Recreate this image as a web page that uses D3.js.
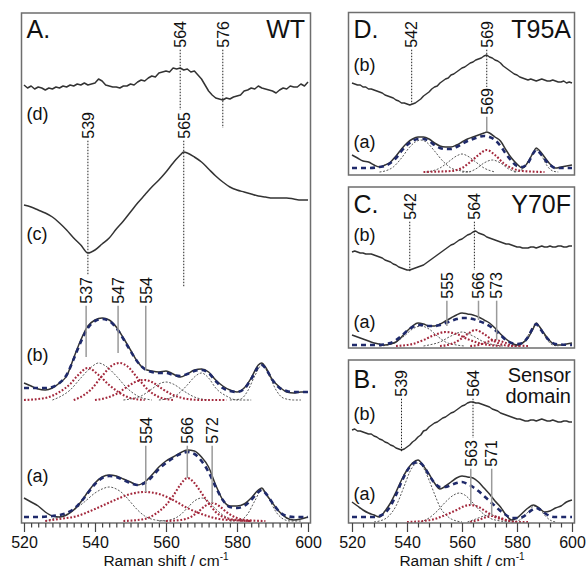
<!DOCTYPE html>
<html>
<head>
<meta charset="utf-8">
<script src="https://cdn.jsdelivr.net/npm/d3@7"></script>
<style>
  body { margin: 0; background: #fff; }
  svg text { font-family: "Liberation Sans", Arial, Helvetica, sans-serif; fill: #111; }
</style>
</head>
<body>
<script>
// ---------- data (Raman shift / cm-1, intensity in arbitrary units) ----------
const X_TICKS = [520, 540, 560, 580, 600];
const SHIFT_1 = d3.range(520, 601);   // 1 cm-1 grid used by the noisy difference traces

// Panel A, WT
const A_d = [20,17,19,16,18,17,15,17,16,18,17,19,18,20,19,21,20,22,20,21,22,26,24,20,19,18,18,17,19,19,21,20,23,25,24,27,29,28,32,33,34,33,37,36,37,35,36,33,34,30,26,20,14,10,7,6,5,7,6,8,9,10,14,15,17,16,19,17,16,15,14,12,15,17,16,19,18,18,21,19,23];
const A_c = [[520,55],[522,53],[524,50],[526,47],[528,43],[530,37],[532,30],[534,22],[536,15],[538,7],[540,10],[542,16],[544,22],[546,31],[548,39],[550,48],[552,57],[554,65],[556,73],[558,80],[560,88],[562,97],[564,105],[565,108],[566,107],[568,103],[570,98],[572,91],[574,84],[576,78],[578,73],[580,70],[582,68],[584,66],[586,64],[588,63],[590,62],[592,62],[594,62],[596,61],[598,60],[600,60]];
const A_b_obs = [[520,17],[522,14],[524,11],[526,10],[528,12],[530,17],[532,24],[534,42],[536,60],[538,74],[540,80],[542,82],[544,80],[546,73],[548,62],[550,50],[552,38],[554,31],[556,29],[558,28],[560,29],[562,26],[564,23],[566,26],[568,30],[570,31],[572,28],[574,20],[576,14],[578,10],[580,8],[582,12],[584,22],[586,35],[587,37],[588,33],[590,20],[592,13],[594,8],[596,7],[598,8],[600,8]];
const A_b_fit = [[520,12],[524,12],[526,12],[528,13],[530,17],[532,25],[534,41],[536,58],[538,72],[540,79],[542,81],[544,79],[546,72],[548,61],[550,49],[552,38],[554,31],[556,28],[558,27],[560,27],[562,25],[564,24],[566,26],[568,29],[570,30],[572,27],[574,19],[576,12],[578,9],[580,8],[582,11],[584,21],[586,33],[587,35],[588,32],[590,20],[592,12],[594,9],[596,8],[600,8]];
const A_b_red = [
  [[520,0],[526,2],[530,8],[533,16],[535,24],[538,32],[541,25],[544,15],[547,7],[550,2],[554,0]],
  [[534,0],[536,3],[539,11],[542,24],[545,35],[547,37],[549,34],[552,22],[555,10],[558,3],[562,0]],
  [[540,0],[543,2],[546,6],[549,13],[552,19],[554,20],[556,18],[559,11],[562,5],[566,1],[570,0],[577,0]]
];
const A_b_gray = [
  [[528,0],[530,3],[533,10],[536,22],[539,33],[541,37],[543,34],[546,24],[549,12],[552,4],[556,0]],
  [[548,0],[550,1],[553,4],[556,11],[558,16],[560,18],[562,16],[565,9],[568,3],[572,0]],
  [[558,0],[560,1],[563,5],[566,15],[568,23],[570,27],[572,22],[574,12],[577,4],[580,0],[584,0]],
  [[578,0],[581,1],[583,9],[585,24],[587,35],[589,25],[591,10],[593,2],[596,0],[598,0]]
];
const A_a_obs = [[520,23],[522,19],[524,15],[526,9],[528,5],[530,4],[532,6],[534,11],[536,19],[538,29],[540,38],[542,44],[544,46],[546,45],[548,42],[550,39],[552,36],[554,39],[556,46],[558,54],[560,60],[562,64],[564,68],[566,71],[568,70],[570,64],[572,54],[574,36],[576,21],[578,15],[580,15],[582,17],[584,23],[586,31],[587,33],[588,28],[590,18],[592,9],[594,3],[596,1],[598,2],[600,4]];
const A_a_fit = [[520,4],[524,4],[528,5],[530,6],[532,8],[534,12],[536,19],[538,28],[540,37],[542,43],[544,45],[546,44],[548,41],[550,38],[552,36],[554,38],[556,44],[558,52],[560,58],[562,63],[564,67],[566,69],[568,67],[570,60],[572,49],[574,34],[576,21],[578,14],[580,13],[582,15],[584,21],[586,29],[587,31],[588,28],[590,18],[592,9],[594,5],[596,4],[600,4]];
const A_a_red = [
  [[526,0],[530,2],[535,5],[540,12],[545,20],[550,27],[554,29],[558,27],[562,21],[566,13],[570,7],[575,2],[580,0.5],[584,0]],
  [[548,0],[554,2],[557,7],[560,16],[562,25],[564,36],[566,43],[568,38],[570,28],[572,18],[574,9],[577,3],[580,1],[584,0]],
  [[560,0],[564,1],[567,4],[569,9],[571,15],[573,18],[575,15],[577,9],[580,3],[584,0.5],[588,0]]
];
const A_a_gray = [
  [[526,0],[528,2],[531,5],[534,11],[537,19],[540,28],[542,32],[544,34],[546,32],[548,27],[550,19],[552,11],[554,5],[557,1],[560,0]],
  [[558,0],[561,1],[564,6],[566,13],[568,20],[570,23],[572,19],[574,12],[576,6],[579,1],[582,0]],
  [[578,0],[581,1],[583,7],[585,20],[587,31],[589,22],[591,9],[593,2],[595,0],[598,0]]
];

// Panel D, T95A
const D_b = [22,21,20,20,18,18,16,16,15,14,13,12,10,9,8,7,5,4,2,2,1,0,1,2,4,6,9,11,13,16,18,19,22,24,26,27,30,31,33,35,37,38,40,42,43,45,46,47,49,50,48,47,45,44,42,39,37,35,33,31,30,28,27,26,25,26,25,24,25,26,25,24,24,25,24,23,23,24,22,23,22];
const D_a_obs = [[520,17],[522,14],[524,11],[526,10],[528,7],[530,5],[532,7],[534,10],[536,16],[538,23],[540,29],[542,33],[544,35],[546,35],[548,33],[550,29],[552,26],[554,25],[556,25],[558,27],[560,30],[562,33],[564,35],[566,37],[568,39],[569,40],[570,39],[572,35],[574,31],[576,22],[578,14],[580,8],[582,4],[584,10],[586,20],[587,24],[588,22],[590,15],[592,8],[594,4],[596,5],[598,6],[600,7]];
const D_a_fit = [[520,4],[526,4],[530,5],[532,6],[534,9],[536,14],[538,21],[540,27],[542,31],[544,33],[546,33],[548,31],[550,27],[552,24],[554,23],[556,23],[558,25],[560,28],[562,31],[564,33],[566,35],[568,36],[570,35],[572,32],[574,26],[576,18],[578,11],[580,6],[582,5],[584,9],[586,19],[587,22],[588,20],[590,13],[592,7],[594,4],[600,4]];
const D_a_red = [
  [[546,0],[552,0.5],[556,1],[560,4],[563,10],[566,17],[569,22],[572,17],[575,9],[578,4],[582,1],[590,0]]
];
const D_a_gray = [
  [[530,0],[532,1],[535,5],[538,14],[541,25],[543,30],[545,32],[547,30],[550,21],[553,11],[556,4],[560,1],[563,0]],
  [[547,0],[549,1],[552,4],[555,10],[558,16],[560,18],[562,16],[565,10],[568,4],[572,0]],
  [[560,0],[562,0],[565,3],[568,9],[571,12],[574,9],[577,3],[580,0]],
  [[579,0],[581,1],[583,6],[585,15],[587,22],[589,16],[591,6],[593,1],[595,0]]
];

// Panel C, Y70F
const C_b = [20,21,20,19,19,18,18,18,17,16,15,14,12,11,10,8,7,5,4,3,2,2,3,4,5,6,7,9,11,13,15,17,19,21,23,25,27,28,30,32,33,35,37,38,40,41,39,38,37,35,34,33,32,31,30,29,28,28,27,26,25,25,24,24,24,25,25,24,25,26,25,25,26,25,25,26,26,25,25,26,26];
const C_a_obs = [[520,11],[522,9],[524,7],[526,5],[528,3],[530,2],[532,1],[534,2],[536,4],[538,9],[540,15],[542,20],[544,23],[546,22],[548,20],[550,20],[552,22],[554,25],[556,28],[558,31],[560,33],[562,32],[564,31],[566,29],[568,26],[570,23],[572,18],[574,12],[576,7],[578,3],[580,1],[582,3],[584,8],[586,18],[587,23],[588,20],[590,12],[592,5],[594,1],[596,1],[598,2],[600,3]];
const C_a_fit = [[520,1],[526,1],[530,1],[532,2],[534,3],[536,6],[538,10],[540,15],[542,19],[544,21],[546,21],[548,20],[550,20],[552,21],[554,23],[556,25],[558,27],[560,28],[562,28],[564,27],[566,25],[568,23],[570,20],[572,16],[574,11],[576,6],[578,3],[580,2],[582,3],[584,9],[586,19],[587,22],[588,19],[590,11],[592,5],[594,2],[600,1]];
const C_a_red = [
  [[536,0],[542,2],[546,6],[550,11],[554,14],[558,12],[562,7],[566,3],[570,1],[574,0]],
  [[552,0],[556,2],[559,6],[562,12],[565,16],[568,12],[571,6],[574,2],[578,0],[581,0]],
  [[563,0],[566,1],[569,4],[572,6],[575,4],[578,1],[584,0]]
];
const C_a_gray = [
  [[530,0],[533,1],[536,4],[539,10],[542,17],[545,20],[548,17],[551,10],[554,4],[558,1],[561,0]],
  [[546,0],[548,1],[552,4],[556,10],[560,14],[564,10],[568,4],[572,1],[575,0]],
  [[579,0],[581,1],[583,6],[585,15],[587,22],[589,16],[591,6],[593,1],[595,0]]
];

// Panel B, sensor domain
const B_b = [22,23,21,21,20,19,18,18,16,15,13,12,10,9,7,6,4,3,2,3,5,7,10,12,15,17,21,22,25,27,29,30,32,34,35,37,39,40,42,44,46,47,49,50,50,49,49,48,47,46,45,43,42,41,39,38,37,36,35,34,33,33,32,31,31,32,32,31,32,33,32,31,31,32,31,30,30,31,31,30,30];
const B_a_obs = [[520,20],[522,16],[524,12],[526,9],[528,7],[530,5],[532,11],[534,19],[536,30],[538,42],[540,52],[542,59],[544,62],[546,56],[548,48],[550,39],[552,33],[554,36],[556,40],[558,44],[560,46],[562,45],[564,44],[566,40],[568,34],[570,28],[572,21],[574,15],[576,7],[578,2],[580,4],[582,9],[584,14],[586,17],[588,14],[590,10],[592,11],[594,14],[596,16],[598,20],[600,22]];
const B_a_fit = [[520,5],[524,5],[528,5],[530,6],[532,9],[534,16],[536,27],[538,40],[540,51],[542,58],[544,60],[546,56],[548,47],[550,39],[552,35],[554,35],[556,37],[558,39],[560,40],[562,38],[564,35],[566,31],[568,26],[570,21],[572,16],[574,11],[576,7],[578,4],[580,4],[582,5],[584,9],[586,13],[587,14],[588,13],[590,9],[592,6],[594,5],[600,5]];
const B_a_red = [
  [[540,0],[546,1],[550,3],[554,7],[558,12],[561,16],[563,17],[566,15],[569,10],[572,5],[576,2],[580,0],[584,0]],
  [[563,0],[566,2],[569,5],[571,6],[573,5],[576,2],[580,0]]
];
const B_a_gray = [
  [[528,0],[530,1],[533,5],[536,16],[539,36],[541,50],[543,58],[544,59],[546,54],[548,42],[550,28],[552,15],[555,5],[558,1],[560,0]],
  [[545,0],[548,4],[551,11],[554,20],[557,27],[559,29],[561,27],[564,19],[567,10],[570,4],[574,1],[577,0]],
  [[562,0],[565,3],[568,6],[570,7],[572,6],[575,2],[578,0]],
  [[578,0],[581,2],[583,7],[585,13],[586,16],[588,14],[590,7],[592,2],[594,0]]
];

// ---------- layout ----------
const WIDTH = 587, HEIGHT = 569;
const STYLE = {
  obs:  { stroke: "#333", width: 1.5, dash: null },
  fit:  { stroke: "#1f2a6b", width: 2.6, dash: "5,4" },
  red:  { stroke: "#a3283c", width: 2.1, dash: "1.8,1.8" },
  gray: { stroke: "#444", width: 0.9, dash: "2,1.6" }
};

const PANELS = [
  { name: "A.", tag: ["WT"], frame: [21.5, 13, 310.5, 523], xr: [24, 308], axis: 2, tagX: 305,
    nameY: 38, tagY: [38],
    sub: [["(d)", 120], ["(c)", 240], ["(b)", 361], ["(a)", 482]],
    layers: [
      ...A_b_gray.map(d => ({ data: d, off: 123, kind: "gray" })),
      ...A_b_red.map(d => ({ data: d, off: 123, kind: "red" })),
      { data: A_b_obs, off: 123, kind: "obs" },
      { data: A_b_fit, off: 123, kind: "fit" },
      ...A_a_gray.map(d => ({ data: d, off: 2, kind: "gray" })),
      ...A_a_red.map(d => ({ data: d, off: 2, kind: "red" })),
      { data: A_a_obs, off: 2, kind: "obs" },
      { data: A_a_fit, off: 2, kind: "fit" },
      { data: A_c, off: 263, kind: "obs" },
      { data: SHIFT_1.map((s, i) => [s, A_d[i]]), off: 418, kind: "obs", linear: true }
    ],
    notes: [
      { v: 564, t: "564", top: 21, end: 110, kind: "dot" },
      { v: 576, t: "576", top: 21, end: 128, kind: "dot" },
      { v: 538, t: "539", top: 112, end: 275, kind: "dot" },
      { v: 565, t: "565", top: 112, end: 287, kind: "dot" },
      { v: 537.5, t: "537", top: 277, end: 357, kind: "solid" },
      { v: 546.5, t: "547", top: 277, end: 353, kind: "solid" },
      { v: 554.3, t: "554", top: 277, end: 370, kind: "solid" },
      { v: 554.3, t: "554", top: 417, end: 492, kind: "solid" },
      { v: 566, t: "566", top: 417, end: 478, kind: "solid" },
      { v: 573, t: "572", top: 417, end: 503, kind: "solid" }
    ] },
  { name: "D.", tag: ["T95A"], frame: [348.5, 12.5, 574.5, 175], xr: [352, 572], axis: 0, tagX: 571,
    nameY: 38, tagY: [38],
    sub: [["(b)", 71], ["(a)", 148]],
    layers: [
      ...D_a_gray.map(d => ({ data: d, off: 3, kind: "gray" })),
      ...D_a_red.map(d => ({ data: d, off: 3, kind: "red" })),
      { data: D_a_obs, off: 3, kind: "obs" },
      { data: D_a_fit, off: 3, kind: "fit" },
      { data: SHIFT_1.map((s, i) => [s, D_b[i]]), off: 70, kind: "obs", linear: true }
    ],
    notes: [
      { v: 541.7, t: "542", top: 21, end: 104, kind: "dot" },
      { v: 569, t: "569", top: 21, end: 87, kind: "dot" },
      { v: 569, t: "569", top: 88, end: 131, kind: "solid" }
    ] },
  { name: "C.", tag: ["Y70F"], frame: [348.5, 187, 574.5, 348], xr: [352, 572], axis: 0, tagX: 571,
    nameY: 213, tagY: [213],
    sub: [["(b)", 241], ["(a)", 328]],
    layers: [
      ...C_a_gray.map(d => ({ data: d, off: 2, kind: "gray" })),
      ...C_a_red.map(d => ({ data: d, off: 2, kind: "red" })),
      { data: C_a_obs, off: 2, kind: "obs" },
      { data: C_a_fit, off: 2, kind: "fit" },
      { data: SHIFT_1.map((s, i) => [s, C_b[i]]), off: 76, kind: "obs", linear: true }
    ],
    notes: [
      { v: 541, t: "542", top: 193, end: 272, kind: "dot" },
      { v: 564.5, t: "564", top: 193, end: 270, kind: "dot" },
      { v: 554.5, t: "555", top: 272, end: 326, kind: "solid" },
      { v: 566, t: "566", top: 272, end: 320, kind: "solid" },
      { v: 572.6, t: "573", top: 272, end: 340, kind: "solid" }
    ] },
  { name: "B.", tag: ["Sensor", "domain"], frame: [348.5, 360, 574.5, 523], xr: [352, 572], axis: 4, tagX: 571,
    nameY: 388, tagY: [382, 403],
    sub: [["(b)", 420], ["(a)", 500]],
    layers: [
      ...B_a_gray.map(d => ({ data: d, off: 1, kind: "gray" })),
      ...B_a_red.map(d => ({ data: d, off: 1, kind: "red" })),
      { data: B_a_obs, off: 1, kind: "obs" },
      { data: B_a_fit, off: 1, kind: "fit" },
      { data: SHIFT_1.map((s, i) => [s, B_b[i]]), off: 71, kind: "obs", linear: true }
    ],
    notes: [
      { v: 538, t: "539", top: 370, end: 452, kind: "dot" },
      { v: 564, t: "564", top: 370, end: 438, kind: "dot" },
      { v: 563.2, t: "563", top: 440, end: 505, kind: "solid" },
      { v: 570.8, t: "571", top: 440, end: 516, kind: "solid" }
    ] }
];

// ---------- drawing ----------
const svg = d3.select("body").append("svg")
  .attr("width", WIDTH)
  .attr("height", HEIGHT)
  .attr("viewBox", [0, 0, WIDTH, HEIGHT]);

PANELS.forEach(function(p) {
  const [fx0, fy0, fx1, fy1] = p.frame;
  const xScale = d3.scaleLinear().domain([520, 600]).range(p.xr);
  const yScale = d3.scaleLinear().domain([0, fy1 - fy0]).range([fy1, fy0]);
  const g = svg.append("g");

  // spectra
  p.layers.forEach(function(l) {
    const st = STYLE[l.kind];
    const line = d3.line()
      .x(d => xScale(d[0]))
      .y(d => yScale(d[1] + l.off))
      .curve(l.linear ? d3.curveLinear : d3.curveMonotoneX);
    g.append("path")
      .datum(l.data)
      .attr("d", line)
      .style("fill", "none")
      .style("stroke", st.stroke)
      .style("stroke-width", st.width)
      .style("stroke-linejoin", "round")
      .style("stroke-dasharray", st.dash);
  });

  // frame
  g.append("rect")
    .attr("x", fx0).attr("y", fy0)
    .attr("width", fx1 - fx0).attr("height", fy1 - fy0)
    .style("fill", "none")
    .style("stroke", "#6e6e6e")
    .style("stroke-width", 1.5);

  // peak labels with their marker lines
  p.notes.forEach(function(n) {
    const x = xScale(n.v);
    const txt = g.append("text")
      .attr("transform", `translate(${x},${n.top}) rotate(-90)`)
      .attr("text-anchor", "end")
      .attr("dy", "0.36em")
      .style("font-size", "16px")
      .text(n.t);
    const len = txt.node().getComputedTextLength();
    g.append("line")
      .attr("x1", x).attr("x2", x)
      .attr("y1", n.top + len + 2).attr("y2", n.end)
      .style("stroke", n.kind === "dot" ? "#222" : "#9a9a9a")
      .style("stroke-width", n.kind === "dot" ? 1 : 1.5)
      .style("stroke-dasharray", n.kind === "dot" ? "1.5,1.5" : null);
  });

  // panel letter, sample name, trace letters
  g.append("text").attr("x", fx0 + 5).attr("y", p.nameY)
    .style("font-size", "25px").text(p.name);
  p.tag.forEach((t, i) => g.append("text")
    .attr("x", p.tagX).attr("y", p.tagY[i])
    .attr("text-anchor", "end")
    .style("font-size", p.tag.length > 1 ? "20px" : "25px")
    .text(t));
  p.sub.forEach(s => g.append("text")
    .attr("x", fx0 + 5).attr("y", s[1])
    .style("font-size", "18px").text(s[0]));

  // bottom axis
  if (p.axis) {
    const minor = d3.range(520, 601, p.axis).filter(v => X_TICKS.indexOf(v) < 0);
    const gMinor = g.append("g").attr("transform", `translate(0,${fy1})`)
      .call(d3.axisBottom(xScale).tickValues(minor).tickSize(4.5).tickFormat(""));
    const gMajor = g.append("g").attr("transform", `translate(0,${fy1})`)
      .call(d3.axisBottom(xScale).tickValues(X_TICKS).tickSize(9).tickPadding(5));
    [gMinor, gMajor].forEach(a => {
      a.select(".domain").remove();
      a.selectAll("line").style("stroke", "#444").style("stroke-width", 1.2);
    });
    gMajor.selectAll("text")
      .style("font-size", "16px")
      .style("font-family", "'Liberation Sans', Arial, sans-serif")
      .attr("fill", "#111");

    const title = g.append("text")
      .attr("x", (p.xr[0] + p.xr[1]) / 2)
      .attr("y", 566)
      .attr("text-anchor", "middle")
      .style("font-size", "15.5px")
      .text("Raman shift / cm");
    title.append("tspan")
      .attr("dy", -6)
      .style("font-size", "10px")
      .text("-1");
  }
});
</script>
</body>
</html>
